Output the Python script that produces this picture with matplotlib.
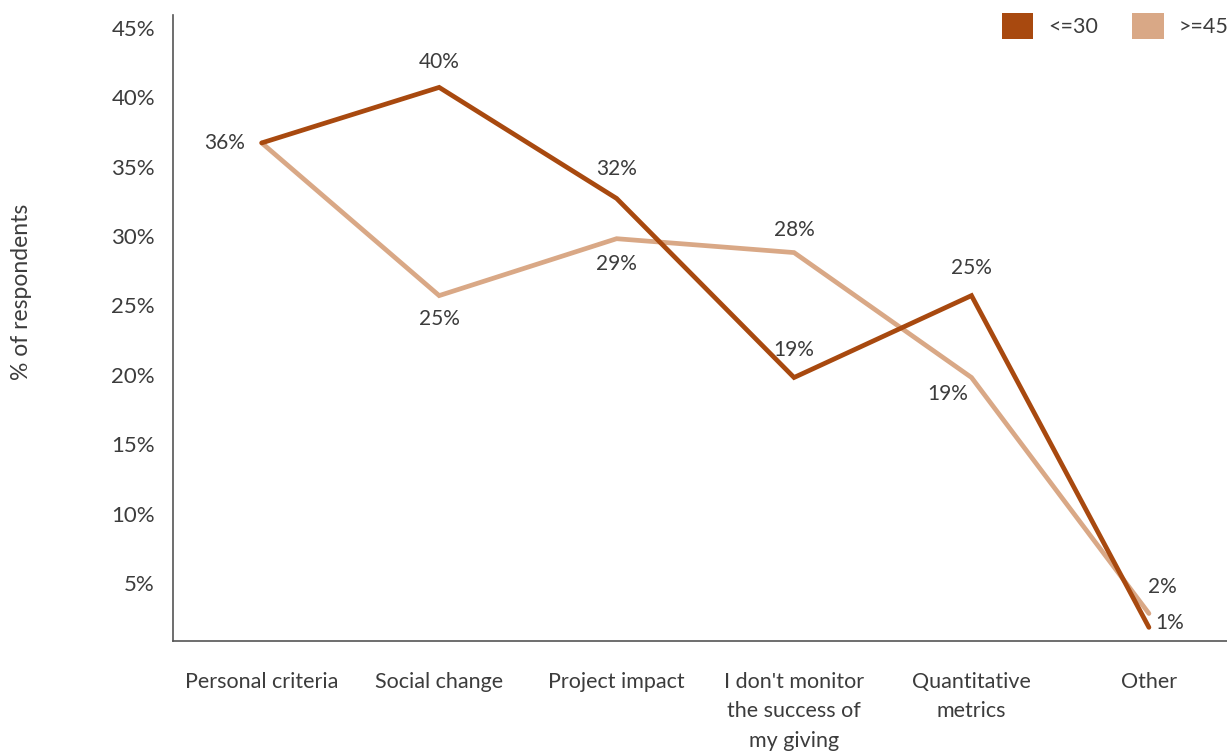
import matplotlib
matplotlib.use("Agg")
import matplotlib.pyplot as plt
from matplotlib.patches import Patch

plt.rcParams['font.family'] = ['Lato', 'DejaVu Sans']

categories = ["Personal criteria", "Social change", "Project impact",
              "I don't monitor\nthe success of\nmy giving", "Quantitative\nmetrics", "Other"]
young = [36.7, 40.7, 32.7, 19.8, 25.7, 1.8]
old = [36.7, 25.7, 29.8, 28.8, 19.8, 2.8]
young_labels = ["36%", "40%", "32%", "19%", "25%", "1%"]
old_labels = ["", "25%", "29%", "28%", "19%", "2%"]
yticks = [5, 10, 15, 20, 25, 30, 35, 40, 45]
series_names = ["<=30", ">=45"]

dark = "#A8490F"
light = "#D9A886"
textc = "#3c3c3c"

fig = plt.figure(figsize=(12.27, 7.51), dpi=100)
ax = fig.add_axes([0.141, 0.1465, 0.859, 0.834])
x = list(range(len(categories)))
ax.plot(x, old, color=light, lw=3.4, solid_capstyle='round', solid_joinstyle='miter', zorder=2)
ax.plot(x, young, color=dark, lw=3.4, solid_capstyle='round', solid_joinstyle='miter', zorder=3)

ax.set_xlim(-0.5, 5.44)
ax.set_ylim(0.82, 45.94)
ax.set_yticks(yticks)
ax.set_yticklabels([f"{v}%" for v in yticks])
ax.set_xticks(x)
ax.set_xticklabels(categories, linespacing=1.6, va='top')
ax.tick_params(axis='both', length=0, colors=textc)
ax.tick_params(axis='y', pad=13, labelsize=16)
ax.tick_params(axis='x', pad=22, labelsize=15.5)
for s in ['top', 'right']:
    ax.spines[s].set_visible(False)
for s in ['left', 'bottom']:
    ax.spines[s].set_color("#555555")
    ax.spines[s].set_linewidth(1.2)

fig.text(22 / 1227, 1 - 292 / 751, "% of respondents", rotation=90, ha='center', va='center',
         fontsize=16.5, color=textc)

# offsets in points (dx, dy)
young_off = [(-27, 0), (0, 18), (0, 21), (0, 20), (0, 20), (15, 3)]
old_off = [None, (0, -17), (0, -18), (0, 16), (-17, -12), (10, 19)]
for i, (v, lab, off) in enumerate(zip(young, young_labels, young_off)):
    ax.annotate(lab, (i, v), xytext=off, textcoords='offset points',
                ha='center', va='center', fontsize=15, color=textc)
for i, (v, lab, off) in enumerate(zip(old, old_labels, old_off)):
    if off is None or not lab:
        continue
    ax.annotate(lab, (i, v), xytext=off, textcoords='offset points',
                ha='center', va='center', fontsize=15, color=textc)

handles = [Patch(facecolor=dark, edgecolor='none'), Patch(facecolor=light, edgecolor='none')]
leg = fig.legend(handles, series_names, loc='upper right', bbox_to_anchor=(1.017, 1.008),
                 ncol=2, frameon=False, fontsize=15.5, handlelength=1.45, handleheight=1.45,
                 handletextpad=0.7, columnspacing=1.6, labelcolor=textc)

fig.savefig("out.png", dpi=100)
